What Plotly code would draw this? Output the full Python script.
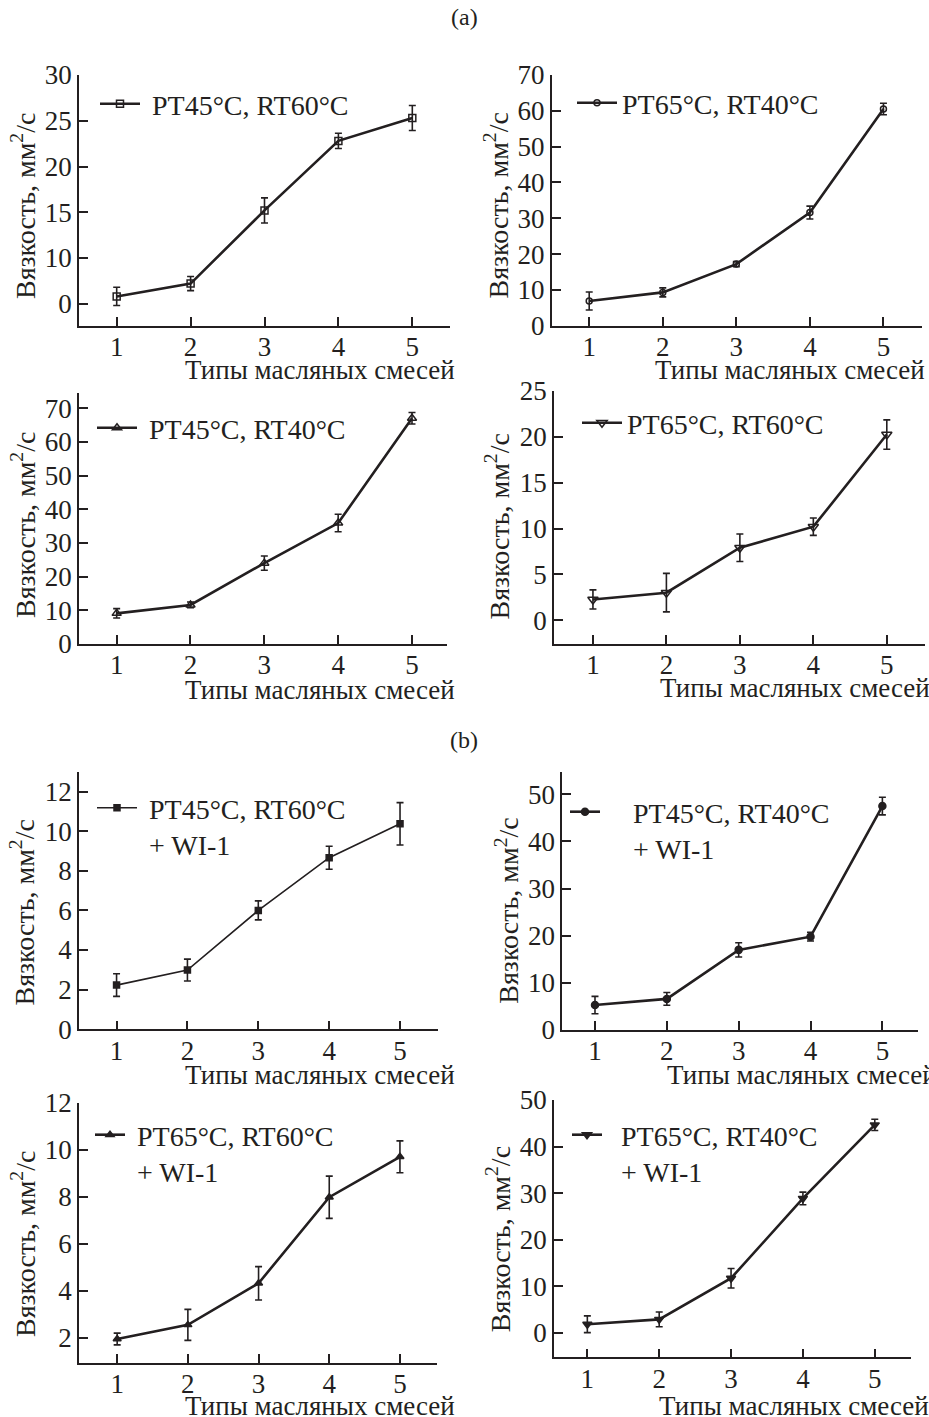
import plotly.graph_objects as go

W, H = 929, 1417

# ---------------- data ----------------
mix_types = [1, 2, 3, 4, 5]

labels = [
    "PT45°C, RT60°C",
    "PT65°C, RT40°C",
    "PT45°C, RT40°C",
    "PT65°C, RT60°C",
    "PT45°C, RT60°C<br>+ WI-1",
    "PT45°C, RT40°C<br>+ WI-1",
    "PT65°C, RT60°C<br>+ WI-1",
    "PT65°C, RT40°C<br>+ WI-1",
]

visc_a1 = [5.8, 7.2, 15.2, 22.8, 25.3]
err_a1 = [1.0, 0.77, 1.37, 0.84, 1.37]
visc_a2 = [6.9, 9.3, 17.2, 31.6, 60.5]
err_a2 = [2.5, 1.25, 0.7, 1.8, 1.6]
visc_a3 = [9.1, 11.6, 24.0, 35.9, 67.0]
err_a3 = [1.4, 0.85, 2.1, 2.6, 1.7]
visc_a4 = [2.26, 3.0, 7.9, 10.2, 20.25]
err_a4 = [1.04, 2.1, 1.5, 0.95, 1.6]
visc_b1 = [2.23, 2.99, 6.0, 8.66, 10.37]
err_b1 = [0.57, 0.55, 0.48, 0.58, 1.07]
visc_b2 = [5.3, 6.6, 17.0, 19.8, 47.5]
err_b2 = [1.84, 1.34, 1.5, 0.92, 1.87]
visc_b3 = [1.96, 2.56, 4.33, 7.99, 9.71]
err_b3 = [0.25, 0.66, 0.71, 0.9, 0.68]
visc_b4 = [1.8, 2.85, 11.7, 28.85, 44.65]
err_b4 = [1.8, 1.57, 2.1, 1.35, 1.2]

values = [visc_a1, visc_a2, visc_a3, visc_a4, visc_b1, visc_b2, visc_b3, visc_b4]
errors = [err_a1, err_a2, err_a3, err_a4, err_b1, err_b2, err_b3, err_b4]

# tick labels (panel 1 reproduces the original's "0" label at the 5 gridline)
ytickvals = [
    [5, 10, 15, 20, 25, 30],
    [0, 10, 20, 30, 40, 50, 60, 70],
    [0, 10, 20, 30, 40, 50, 60, 70],
    [0, 5, 10, 15, 20, 25],
    [0, 2, 4, 6, 8, 10, 12],
    [0, 10, 20, 30, 40, 50],
    [2, 4, 6, 8, 10, 12],
    [0, 10, 20, 30, 40, 50],
]
yticktext = [
    ["0", "10", "15", "20", "25", "30"],
    None, None, None, None, None, None, None,
]
xtick_labels = ["1", "2", "3", "4", "5"]
panel_tags = ["(a)", "(b)"]
x_title = "Типы масляных смесей"
y_title = "Вязкость, мм<sup>2</sup>/с"

# ---------------- styles / layout ----------------
# pixel geometry: x0, x1, ytop, ybottom
boxes = [
    (79, 450, 75, 325.7),
    (551.7, 921.7, 75, 325.7),
    (79, 446.7, 393, 644),
    (554, 925, 391, 644),
    (79, 438.3, 771.7, 1029.3),
    (562.3, 918.3, 771.7, 1030),
    (79, 436.7, 1103, 1362.7),
    (554, 910.7, 1100, 1357.3),
]
yranges = [[2.6, 30], [0, 70], [0, 74.5], [-2.6, 25], [0, 13], [0, 54.8], [0.95, 12], [-5.3, 50]]
xranges = [[0.49, 5.51], [0.49, 5.52], [0.49, 5.47], [0.47, 5.52],
           [0.47, 5.54], [0.545, 5.5], [0.46, 5.52], [0.536, 5.5]]
symbols = ["square-open", "circle-open", "triangle-up-open", "triangle-down-open",
           "square", "circle", "triangle-up", "triangle-down"]
msizes = [7, 6, 8, 9, 6, 7, 7, 8]
lwidths = [2.6, 2.6, 2.6, 2.6, 1.6, 2.6, 2.6, 2.6]
# legend: (legend left px, anchor y px, itemwidth, leading nbsp count)
leg_pos = [(95, 104, 40, 1), (572, 103, 40, 0), (92, 428, 40, 1), (577, 423, 40, 0),
           (92, 783, 40, 1), (565, 787, 30, 4), (90, 1110, 30, 1), (567, 1110, 30, 2)]
xtitle_pos = [(183, 370), (653, 370), (183, 690), (658, 688),
              (183, 1075), (665, 1075), (183, 1406), (657, 1406)]
ytitle_pos = [(23, 206), (497, 205.5), (23, 525), (498, 526.5),
              (23, 912.5), (506.7, 911), (23, 1244), (498.3, 1239)]

INK = "#231f20"
FONT = "Liberation Serif"
FS = 27
NB = "\u00a0"

def px(x):
    return x / W

def py(y):
    return 1 - y / H

fig = go.Figure()
layout = dict(
    width=W, height=H, margin=dict(l=0, r=0, t=0, b=0, autoexpand=False),
    paper_bgcolor="white", plot_bgcolor="white",
    font=dict(family=FONT, size=FS, color=INK),
    showlegend=True,
)
annotations = []

for i in range(8):
    n = i + 1
    sfx = "" if n == 1 else str(n)
    x0, x1, yt, yb = boxes[i]
    lname = "legend" if n == 1 else f"legend{n}"
    lx, ly, iw, nb = leg_pos[i]
    name = "<br>".join(NB * nb + part for part in labels[i].split("<br>"))
    fig.add_trace(go.Scatter(
        x=mix_types, y=values[i], mode="lines+markers", name=name,
        xaxis="x" + sfx, yaxis="y" + sfx, legend=lname,
        line=dict(color=INK, width=lwidths[i]),
        marker=dict(symbol=symbols[i], size=msizes[i], color=INK,
                    line=dict(color=INK, width=1.5)),
        error_y=dict(type="data", array=errors[i], visible=True,
                     color=INK, thickness=1.6, width=3.5),
        hoverinfo="skip",
    ))
    ax = dict(
        domain=[px(x0), px(x1)], anchor="y" + sfx, range=xranges[i],
        tickvals=mix_types, ticktext=xtick_labels,
        ticks="inside", ticklen=9, tickwidth=1.6, tickcolor=INK,
        showline=True, linecolor=INK, linewidth=1.6,
        showgrid=False, zeroline=False, ticklabelstandoff=-4,
        tickfont=dict(family=FONT, size=FS, color=INK), fixedrange=True,
    )
    ay = dict(
        domain=[py(yb), py(yt)], anchor="x" + sfx, range=yranges[i],
        tickvals=ytickvals[i],
        ticks="inside", ticklen=9, tickwidth=1.6, tickcolor=INK,
        showline=True, linecolor=INK, linewidth=1.6,
        showgrid=False, zeroline=False,
        tickfont=dict(family=FONT, size=FS, color=INK), fixedrange=True,
    )
    if yticktext[i] is not None:
        ay["ticktext"] = yticktext[i]
    layout["xaxis" + sfx] = ax
    layout["yaxis" + sfx] = ay

    multi = "<br>" in labels[i]
    layout[lname] = dict(
        x=px(lx), y=py(ly),
        xanchor="left", yanchor="top" if multi else "middle",
        bgcolor="rgba(0,0,0,0)", borderwidth=0, itemwidth=iw,
        font=dict(family=FONT, size=FS + 1, color=INK), valign="top",
        itemclick=False, itemdoubleclick=False,
    )

    tx, ty = xtitle_pos[i]
    annotations.append(dict(
        text=x_title, xref="paper", yref="paper", x=px(tx), y=py(ty),
        xanchor="left", yanchor="middle", showarrow=False,
        font=dict(family=FONT, size=FS, color=INK),
    ))
    yx, yy = ytitle_pos[i]
    annotations.append(dict(
        text=y_title, xref="paper", yref="paper", x=px(yx), y=py(yy),
        xanchor="center", yanchor="middle", showarrow=False, textangle=-90,
        font=dict(family=FONT, size=FS + 1, color=INK),
    ))

annotations.append(dict(text=panel_tags[0], xref="paper", yref="paper", x=px(464), y=py(17),
                        xanchor="center", yanchor="middle", showarrow=False,
                        font=dict(family=FONT, size=24, color=INK)))
annotations.append(dict(text=panel_tags[1], xref="paper", yref="paper", x=px(464), y=py(740),
                        xanchor="center", yanchor="middle", showarrow=False,
                        font=dict(family=FONT, size=24, color=INK)))
layout["annotations"] = annotations
fig.update_layout(**layout)
fig.write_html("out.html", config={"displayModeBar": False, "staticPlot": False},
               post_script="document.body.style.margin='0';")
